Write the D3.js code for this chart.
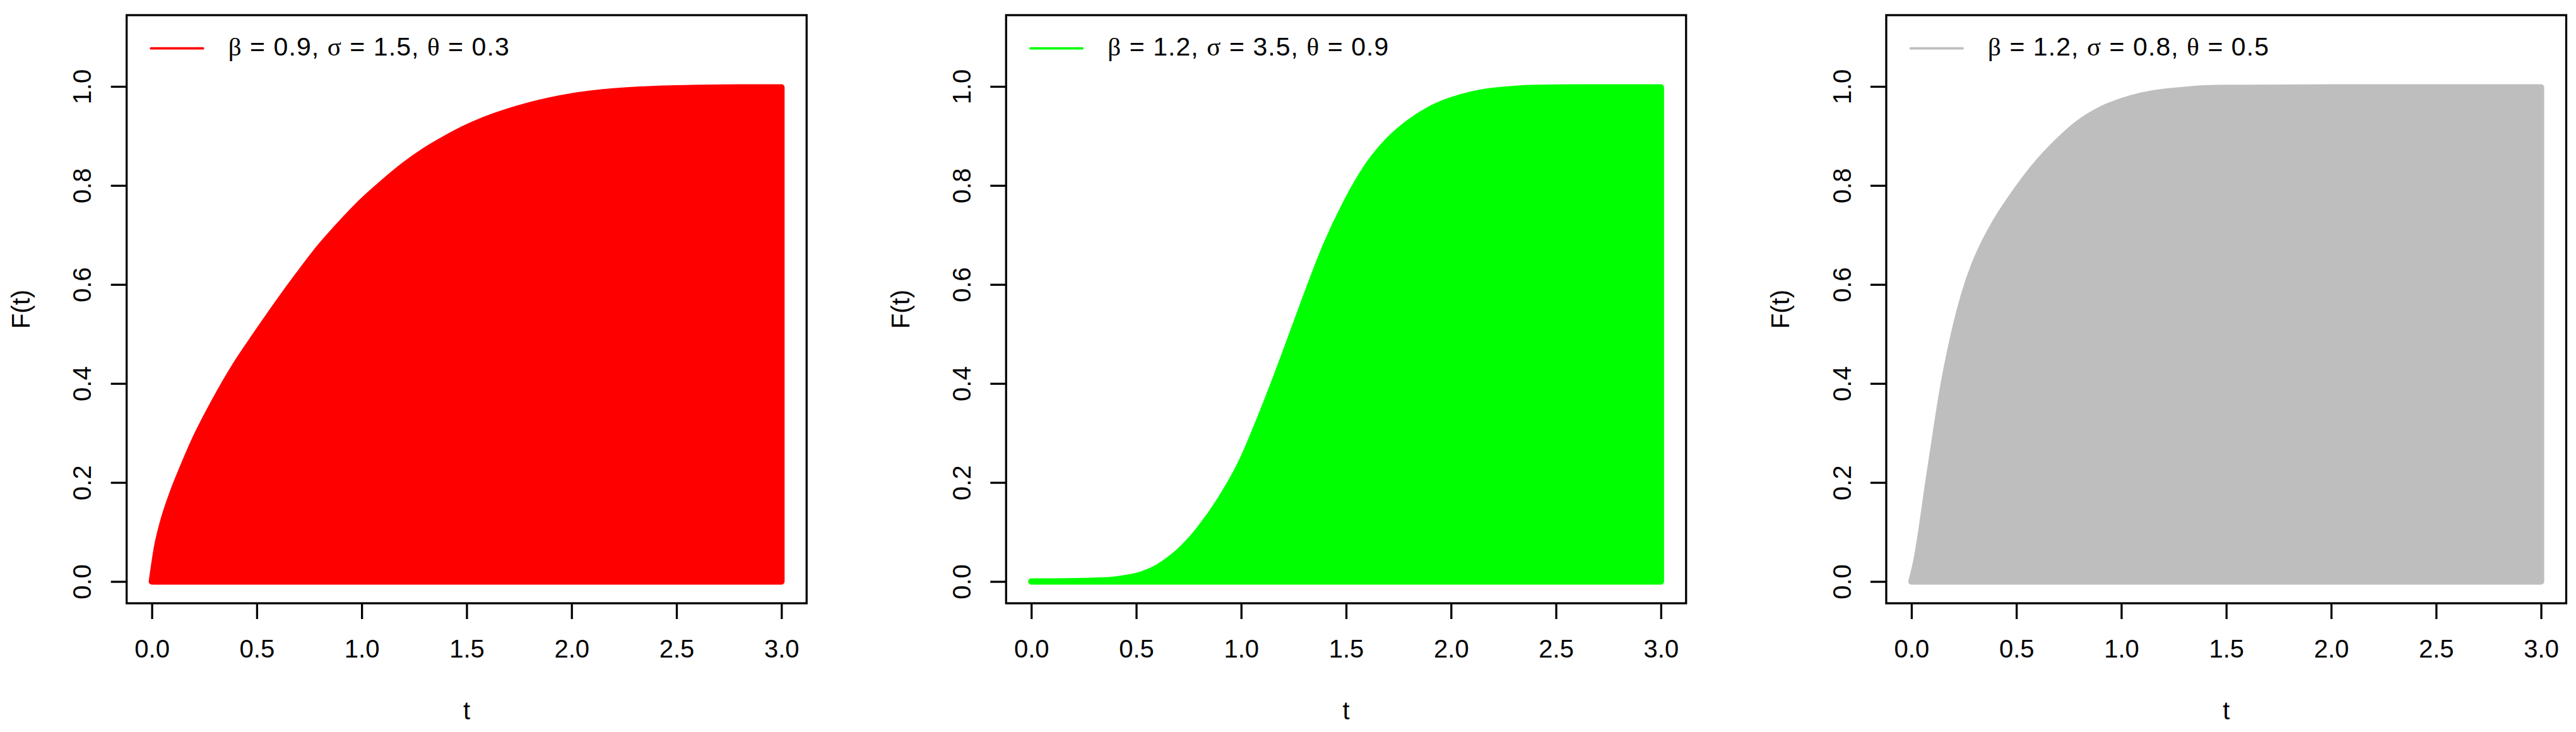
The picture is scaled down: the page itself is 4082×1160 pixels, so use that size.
<!DOCTYPE html>
<html>
<head>
<meta charset="utf-8">
<script src="https://cdn.jsdelivr.net/npm/d3@7"></script>
<style>
  html, body { margin: 0; padding: 0; background: #ffffff; }
  svg { display: block; }
</style>
</head>
<body>
<script>
// ---------------- data ----------------
const tickX = [0, 0.5, 1.0, 1.5, 2.0, 2.5, 3.0];
const tickY = [0, 0.2, 0.4, 0.6, 0.8, 1.0];

const seriesColors = ["#FF0000", "#00FF00", "#BEBEBE"];
const legendBeta  = ["0.9", "1.2", "1.2"];
const legendSigma = ["1.5", "3.5", "0.8"];
const legendTheta = ["0.3", "0.9", "0.5"];

// Panel 1 (red)
const tRed = [0, 0.025, 0.05, 0.1, 0.15, 0.2, 0.3, 0.4, 0.5, 0.6, 0.7, 0.8, 0.9, 1.0,
              1.1, 1.2, 1.3, 1.4, 1.5, 1.6, 1.8, 2.0, 2.2, 2.4, 2.6, 2.8, 3.0];
const fRed = [0, 0.07, 0.115, 0.18, 0.233, 0.282, 0.365, 0.438, 0.501, 0.562, 0.62, 0.675, 0.723, 0.767,
              0.805, 0.84, 0.87, 0.895, 0.917, 0.935, 0.962, 0.98, 0.99, 0.995, 0.997, 0.998, 0.998];

// Panel 2 (green)
const tGreen = [0, 0.1, 0.2, 0.3, 0.4, 0.45, 0.5, 0.55, 0.6, 0.65, 0.7, 0.75, 0.8, 0.9, 1.0, 1.1, 1.2, 1.3, 1.4, 1.5,
                1.6, 1.7, 1.8, 1.9, 2.0, 2.1, 2.2, 2.3, 2.4, 2.6, 2.8, 3.0];
const fGreen = [0, 0, 0.0005, 0.0015, 0.004, 0.007, 0.011, 0.018, 0.028, 0.042, 0.059, 0.08, 0.105, 0.165, 0.24, 0.34, 0.45, 0.565, 0.675, 0.765,
                0.838, 0.89, 0.927, 0.954, 0.972, 0.984, 0.991, 0.995, 0.997, 0.998, 0.998, 0.998];

// Panel 3 (gray)
const tGray = [0, 0.025, 0.05, 0.075, 0.1, 0.15, 0.2, 0.25, 0.3, 0.35, 0.4, 0.5, 0.6, 0.7, 0.8,
               0.9, 1.0, 1.1, 1.2, 1.3, 1.4, 1.5, 2.0, 2.5, 3.0];
const fGray = [0, 0.045, 0.11, 0.185, 0.255, 0.39, 0.495, 0.578, 0.64, 0.687, 0.726, 0.79, 0.845, 0.89, 0.927,
               0.953, 0.97, 0.982, 0.989, 0.993, 0.996, 0.997, 0.998, 0.998, 0.998];

const seriesT = [tRed, tGreen, tGray];
const seriesF = [fRed, fGreen, fGray];

// ---------------- layout ----------------
const W = 4082, H = 1160;
const FONT = "'Liberation Sans', Arial, Helvetica, sans-serif";
const GREEK = "'Liberation Serif', 'Times New Roman', serif";
const panelLeft = [200.7, 1594.3, 2989];
const boxW = 1077.5, boxTop = 24, boxBot = 956;
const lw = 3.3;

const svg = d3.select("body").append("svg")
  .attr("width", W).attr("height", H)
  .attr("viewBox", `0 0 ${W} ${H}`);
svg.append("rect").attr("width", W).attr("height", H).attr("fill", "#ffffff");

panelLeft.forEach((L, i) => {
  const color = seriesColors[i];
  const g = svg.append("g");
  const x = d3.scaleLinear().domain([-0.12, 3.12]).range([L, L + boxW]);
  const y = d3.scaleLinear().domain([-0.044, 1.144]).range([boxBot, boxTop]);

  const pts = seriesT[i].map((t, k) => [t, seriesF[i][k]]);
  const area = d3.area()
    .x(d => x(d[0]))
    .y0(y(0))
    .y1(d => y(d[1]))
    .curve(d3.curveMonotoneX);

  g.append("path")
    .datum(pts)
    .attr("d", area)
    .attr("fill", color)
    .attr("stroke", color)
    .attr("stroke-width", 10)
    .attr("stroke-linejoin", "round")
    .attr("stroke-linecap", "round");

  // box
  g.append("rect")
    .attr("x", L).attr("y", boxTop)
    .attr("width", boxW).attr("height", boxBot - boxTop)
    .attr("fill", "none").attr("stroke", "#000").attr("stroke-width", lw);

  // x axis
  const xa = g.append("g")
    .attr("transform", `translate(0,${boxBot})`)
    .call(d3.axisBottom(x).tickValues(tickX).tickFormat(d3.format(".1f")).tickSize(25).tickPadding(33));
  xa.select(".domain").remove();
  xa.selectAll("line").attr("stroke", "#000").attr("stroke-width", lw);
  xa.selectAll("text").attr("font-size", 40).attr("font-family", FONT).attr("fill", "#000");
  xa.attr("font-size", 40).attr("font-family", FONT);

  // y axis
  const ya = g.append("g")
    .attr("transform", `translate(${L},0)`)
    .call(d3.axisLeft(y).tickValues(tickY).tickFormat(d3.format(".1f")).tickSize(25));
  ya.select(".domain").remove();
  ya.selectAll("line").attr("stroke", "#000").attr("stroke-width", lw);
  ya.selectAll("text")
    .attr("x", 0).attr("dy", null)
    .attr("transform", "translate(-56.4,0) rotate(-90)")
    .attr("text-anchor", "middle")
    .attr("font-size", 40).attr("font-family", FONT).attr("fill", "#000");
  ya.attr("font-size", 40).attr("font-family", FONT);

  // axis titles
  g.append("text")
    .attr("transform", `translate(${L - 153.7},${(boxTop + boxBot) / 2}) rotate(-90)`)
    .attr("text-anchor", "middle")
    .attr("font-size", 40).attr("font-family", FONT)
    .text("F(t)");
  g.append("text")
    .attr("x", L + boxW / 2).attr("y", 1140)
    .attr("text-anchor", "middle")
    .attr("font-size", 40).attr("font-family", FONT)
    .text("t");

  // legend
  g.append("line")
    .attr("x1", L + 38.6).attr("x2", L + 121)
    .attr("y1", 76.7).attr("y2", 76.7)
    .attr("stroke", color).attr("stroke-width", 3.7).attr("stroke-linecap", "round");
  const lt = g.append("text")
    .attr("x", L + 161).attr("y", 88.3)
    .attr("font-size", 41).attr("font-family", FONT).attr("fill", "#000")
    .attr("textLength", 445).attr("lengthAdjust", "spacing");
  lt.append("tspan").attr("font-family", GREEK).text("β");
  lt.append("tspan").text(` = ${legendBeta[i]}, `);
  lt.append("tspan").attr("font-family", GREEK).text("σ");
  lt.append("tspan").text(` = ${legendSigma[i]}, `);
  lt.append("tspan").attr("font-family", GREEK).text("θ");
  lt.append("tspan").text(` = ${legendTheta[i]}`);
});
</script>
</body>
</html>
